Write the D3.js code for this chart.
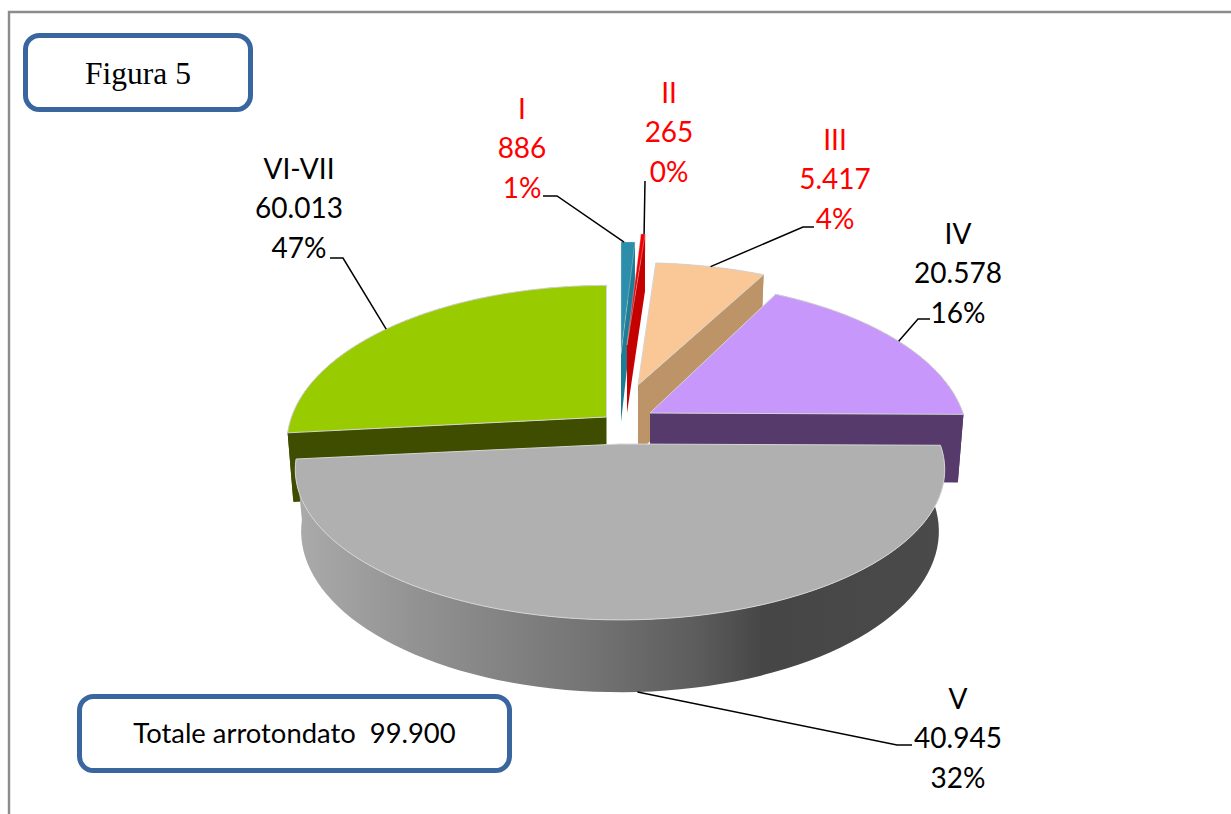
<!DOCTYPE html>
<html><head><meta charset="utf-8">
<script src="https://cdnjs.cloudflare.com/ajax/libs/d3/7.8.5/d3.min.js"></script>
<style>html,body{margin:0;padding:0;background:#fff;overflow:hidden}svg{display:block}</style>
</head><body><svg id="c" width="1231" height="814"></svg>
<script>
// ---- data
const categories = ["I","II","III","IV","V","VI-VII"];
const labelValues = [886,265,5417,20578,40945,60013];
// size of the wedges as drawn, in pie order clockwise from the top
const wedgeValues = [886,265,5417,20578,60013,40945];
const figureTitle = "Figura 5";
const totalNote = "Totale arrotondato  99.900";

// ---- styling / layout
const topColors  = ["#2B8FAB","#F50000","#FAC896","#C797FB","#B0B0B0","#99CC00"];
const wallColors = ["#1F7C96","#C40000","#BC9468","#553A6B","url(#frontWall)","#3F4D00"];
const labelColors= ["#FF0000","#FF0000","#FF0000","#000","#000","#000"];
const apexX = [621,627,638,650,620,606.5];
const apexY = [354,345,385,413,444,417];
const radX  = [320,320,313,313,320,315];
const radY  = [131,130,143,154,146,154];
const depth = [68,68,68,68,60,68];
const drawOrder = [5,0,1,2,3,4];
const labelX = [522,669,835,958,958,299];
const labelY = [109,93,140,234,699,169];
const lineGap = 39.5;
const leaderFrac = [.22,.75,.5,.51,.5,.47];
const leaderKnee = [[557,196],[645,181],[803,227],[918,319],[897,745],[343,258]];
const leaderEnd  = [[543,196],[645,181],[814,227],[930,319],[912,745],[330,258]];
const persp = 0.17, shrink = 0.982;

const svg = d3.select("#c");
const rad = d => d*Math.PI/180;

// pie layout, then the 3D view's angle distortion
const pie = d3.pie().sort(null).startAngle(0).endAngle(2*Math.PI)(wedgeValues);
const viewAngle = d3.scaleLinear()
  .domain([0, pie[1].endAngle, pie[2].endAngle, pie[3].endAngle, pie[4].endAngle, 2*Math.PI])
  .range([0,3.8,27.5,90.5,264.2,360].map(rad));

function rim(i, a, z){
  const th = viewAngle(a), u = Math.sin(th), t = -Math.cos(th), s = 1/(1-persp*t);
  const f = z ? shrink : 1;
  return [apexX[i] + radX[i]*u*s*f, apexY[i] + radY[i]*t*s + (z ? depth[i]*s : 0)];
}
const rimRun = (i,z) => {
  const p = pie[i]; const n = 80;
  return d3.range(n+1).map(k => rim(i, p.startAngle+(p.endAngle-p.startAngle)*k/n, z));
};
const line = d3.line();

const defs = svg.append("defs");
const grad = defs.append("linearGradient").attr("id","frontWall")
  .attr("gradientUnits","userSpaceOnUse").attr("x1",295).attr("x2",945).attr("y1",0).attr("y2",0);
[[0,"#ababab"],[.18,"#939393"],[.45,"#747474"],[.62,"#5c5c5c"],[.72,"#464646"],[1,"#4a4a4a"]]
  .forEach(([o,c]) => grad.append("stop").attr("offset",o).attr("stop-color",c));

// frame
svg.append("path").attr("d","M9,814V12H1231").attr("fill","none").attr("stroke","#8c8c8c").attr("stroke-width",2.4);

// wedges
const g = svg.append("g");
drawOrder.forEach(i => {
  const top = rimRun(i,false), low = rimRun(i,true);
  const apex = [apexX[i],apexY[i]], apexLow = [apexX[i],apexY[i]+depth[i]];
  const w = g.append("g");
  // outer wall
  w.append("path").attr("d", line(top.concat(low.slice().reverse()))+"Z").attr("fill",wallColors[i]);
  // cut face that looks at the viewer
  if(i===5){
    w.append("path").attr("d", line([apex,top[0],low[0],apexLow])+"Z").attr("fill",wallColors[i]);
  } else if(i<4){
    const a=top[top.length-1], b=low[low.length-1];
    w.append("path").attr("d", line([apex,a,b,apexLow])+"Z").attr("fill",wallColors[i]);
  }
  // top
  w.append("path").attr("d", line([apex].concat(top))+"Z").attr("fill",topColors[i])
    .attr("stroke","#d4d4d4").attr("stroke-width",i<2?0.4:1).attr("stroke-linejoin","round");
});

// leaders
categories.forEach((c,i) => {
  const p = pie[i], a = p.startAngle+(p.endAngle-p.startAngle)*leaderFrac[i];
  const start = rim(i,a,i===4);
  svg.append("path").attr("d",line([start,leaderKnee[i],leaderEnd[i]]))
    .attr("fill","none").attr("stroke","#000").attr("stroke-width",1.5);
});

// labels
const itFmt = d3.formatLocale({decimal:",",thousands:".",grouping:[3],currency:["",""]}).format(",");
const pctFmt = d3.format(".0%"), total = d3.sum(labelValues);
categories.forEach((c,i) => {
  const lines = [c, itFmt(labelValues[i]), pctFmt(labelValues[i]/total)];
  const t = svg.append("text").attr("font-family","Lato, 'Open Sans', sans-serif").attr("font-size",28)
    .attr("text-anchor","middle").attr("fill",labelColors[i]);
  lines.forEach((s,k) => t.append("tspan").attr("x",labelX[i]).attr("y",labelY[i]+k*lineGap).attr("dy","0.35em").text(s));
});

// boxes
function box(x,y,w,h,r,text,font,size){
  svg.append("rect").attr("x",x).attr("y",y).attr("width",w).attr("height",h).attr("rx",r)
    .attr("fill","#fff").attr("stroke","#3A669F").attr("stroke-width",5);
  svg.append("text").attr("x",x+w/2).attr("y",y+h/2).attr("dy","0.35em").attr("text-anchor","middle")
    .attr("font-family",font).attr("font-size",size).attr("fill","#000").style("white-space","pre").text(text);
}
box(25.5,35.5,225,74,14,figureTitle,"'Liberation Serif', serif",31.5);
box(79.5,696.5,430,74,14,totalNote,"Lato, 'Open Sans', sans-serif",27.4);
</script></body></html>
